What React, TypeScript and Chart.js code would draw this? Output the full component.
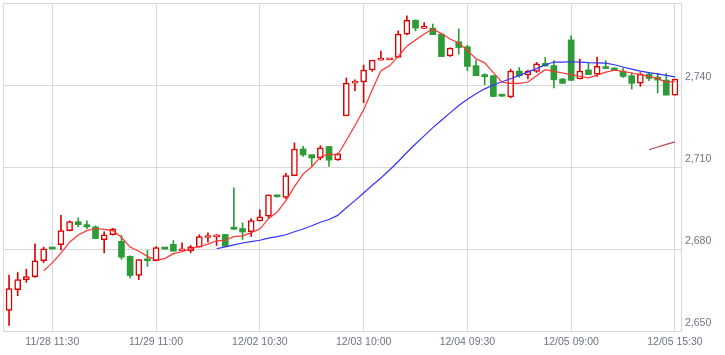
import React, { useEffect, useRef } from 'react';
import { Chart, registerables } from 'chart.js';

Chart.register(...registerables);

// 30-minute candles, 11/28 09:00 .. 12/05 15:30 (index 0..77)
const OPEN = [
  2657.5, 2665.1, 2668.8, 2669.9, 2675.7, 2680.2, 2681.6, 2686.7, 2690.0, 2688.9,
  2688.1, 2683.4, 2685.2, 2682.8, 2677.3, 2670.3, 2676.2, 2675.7, 2680.3, 2681.7,
  2679.3, 2679.4, 2680.7, 2684.2, 2684.4, 2685.3, 2688.0, 2687.5, 2686.3, 2690.3,
  2692.0, 2699.4, 2698.9, 2706.8, 2716.6, 2714.5, 2713.3, 2717.5, 2712.6, 2728.7,
  2740.7, 2741.1, 2745.5, 2749.1, 2749.2, 2750.1, 2758.6, 2763.7, 2760.7, 2760.8,
  2758.6, 2750.6, 2755.8, 2754.0, 2747.1, 2743.8, 2743.4, 2736.1, 2735.6, 2745.1,
  2743.7, 2745.0, 2747.9, 2747.1, 2742.2, 2756.5, 2742.2, 2745.5, 2744.0, 2746.7,
  2746.2, 2745.1, 2743.4, 2740.7, 2744.0, 2742.9, 2741.8, 2736.3,
];
const HIGH = [
  2670.5, 2671.4, 2672.6, 2681.9, 2680.7, 2680.3, 2692.3, 2690.3, 2691.4, 2690.3,
  2688.5, 2686.3, 2687.5, 2685.0, 2677.5, 2676.1, 2679.5, 2680.9, 2680.4, 2683.1,
  2682.3, 2681.3, 2685.2, 2685.9, 2685.3, 2685.4, 2702.4, 2689.6, 2691.1, 2694.3,
  2699.8, 2699.5, 2707.7, 2718.8, 2717.6, 2714.5, 2717.8, 2717.6, 2715.0, 2742.6,
  2741.9, 2747.3, 2749.1, 2752.4, 2749.8, 2759.8, 2765.3, 2763.8, 2762.8, 2762.3,
  2758.7, 2753.6, 2760.5, 2754.5, 2749.1, 2744.2, 2743.5, 2736.2, 2745.8, 2746.4,
  2745.5, 2748.3, 2750.1, 2748.9, 2742.4, 2758.0, 2749.5, 2748.0, 2750.2, 2748.9,
  2746.4, 2746.2, 2744.5, 2744.5, 2744.6, 2744.2, 2744.2, 2742.2,
];
const LOW = [
  2652.0, 2662.9, 2667.8, 2669.6, 2675.0, 2680.0, 2679.7, 2686.6, 2688.1, 2687.4,
  2683.8, 2678.6, 2685.1, 2676.2, 2669.4, 2668.8, 2673.6, 2675.6, 2679.9, 2679.2,
  2679.3, 2678.6, 2680.7, 2682.5, 2681.3, 2681.0, 2687.2, 2683.5, 2684.6, 2690.3,
  2691.4, 2699.0, 2698.4, 2706.8, 2713.9, 2710.5, 2712.6, 2710.2, 2712.4, 2728.7,
  2737.9, 2733.5, 2745.0, 2749.1, 2749.2, 2750.1, 2758.3, 2759.8, 2760.6, 2758.4,
  2750.4, 2750.5, 2751.3, 2745.2, 2743.4, 2740.1, 2735.8, 2735.8, 2735.3, 2742.8,
  2742.2, 2744.6, 2746.9, 2738.9, 2740.6, 2741.7, 2742.2, 2743.8, 2743.1, 2746.0,
  2745.2, 2742.8, 2738.5, 2739.5, 2741.6, 2737.1, 2736.3, 2736.3,
];
const CLOSE = [
  2665.5, 2668.8, 2669.9, 2675.7, 2680.1, 2680.0, 2686.7, 2690.0, 2688.9, 2688.1,
  2683.8, 2685.2, 2687.4, 2677.0, 2670.3, 2676.1, 2675.7, 2680.5, 2680.0, 2679.2,
  2679.8, 2680.8, 2684.5, 2684.5, 2685.2, 2681.0, 2687.2, 2686.2, 2690.4, 2691.8,
  2699.8, 2699.1, 2706.9, 2716.6, 2714.4, 2713.3, 2717.0, 2712.5, 2714.8, 2740.7,
  2741.2, 2745.5, 2749.1, 2749.7, 2749.7, 2758.6, 2763.7, 2760.8, 2760.9, 2758.4,
  2750.4, 2753.5, 2753.7, 2746.8, 2743.4, 2743.0, 2735.8, 2735.9, 2745.1, 2743.4,
  2745.1, 2747.7, 2746.9, 2741.9, 2740.6, 2741.7, 2745.1, 2743.8, 2746.8, 2746.0,
  2745.3, 2743.1, 2740.6, 2744.0, 2742.4, 2741.8, 2736.3, 2742.2,
];

// moving-average lines (start index + values)
const MA5_START = 4;
const MA5 = [
  2672.0, 2674.9, 2678.5, 2682.5, 2685.1, 2686.7, 2687.5, 2687.2, 2686.7, 2684.3,
  2680.7, 2679.2, 2677.3, 2675.9, 2676.5, 2678.3, 2679.0, 2680.1, 2680.9, 2681.8,
  2683.0, 2683.2, 2684.5, 2684.8, 2686.0, 2687.3, 2691.1, 2693.5, 2697.6, 2702.8,
  2707.4, 2710.1, 2713.6, 2714.8, 2714.4, 2719.7, 2725.2, 2730.9, 2738.3, 2745.2,
  2747.0, 2750.5, 2754.2, 2756.5, 2758.7, 2760.5, 2758.8, 2756.8, 2755.4, 2752.6,
  2749.6, 2748.1, 2744.5, 2741.0, 2740.6, 2740.6, 2741.1, 2743.4, 2745.6, 2745.0,
  2744.4, 2743.8, 2743.2, 2742.6, 2743.6, 2744.7, 2745.4, 2745.0, 2744.4, 2743.8,
  2743.1, 2742.4, 2741.0, 2741.3,
];
const MA25_START = 24;
const MA25 = [
  2680.1, 2680.8, 2681.5, 2682.2, 2682.7, 2683.2, 2684.0, 2684.5, 2685.2, 2686.3,
  2687.3, 2688.5, 2689.8, 2690.8, 2692.3, 2695.1, 2697.7, 2700.5, 2703.3, 2706.0,
  2708.9, 2712.0, 2715.3, 2718.4, 2721.4, 2724.4, 2727.1, 2729.8, 2732.5, 2734.8,
  2736.8, 2738.6, 2740.0, 2741.2, 2742.3, 2743.5, 2744.8, 2746.0, 2747.4, 2748.4,
  2748.4, 2748.5, 2748.4, 2748.2, 2748.1, 2748.0, 2747.4, 2746.6, 2745.8, 2745.1,
  2744.5, 2744.1, 2743.5, 2743.0,
];
const MA75_START = 74;
const MA75 = [2716.3, 2717.3, 2718.3, 2719.2];

const TICK_INDEX = [5, 17, 29, 41, 53, 65, 77];
const TICK_LABELS = [
  '11/28 11:30', '11/29 11:00', '12/02 10:30', '12/03 10:00',
  '12/04 09:30', '12/05 09:00', '12/05 15:30',
];
const Y_MIN = 2650;
const Y_MAX = 2770;
const Y_STEP = 30;

const RED = '#e00000';
const GREEN = '#2f9b38';
const GRID = '#d9d9d9';
const TEXT = '#6d7580';
const FONT = { family: "'Liberation Sans', Arial, sans-serif", size: 10.5 };

export default function App() {
  const ref = useRef<HTMLCanvasElement>(null);

  useEffect(() => {
    if (!ref.current) return;
    const idx = CLOSE.map((_, i) => i);
    const isUp = (i: number) => CLOSE[i] >= OPEN[i];
    const bodies = idx.map((i) => ({ x: i, y: [OPEN[i], CLOSE[i]] }));
    const wicks = idx.map((i) => ({ x: i, y: [LOW[i], HIGH[i]] }));
    const toPts = (arr: number[], start: number) => arr.map((v, k) => ({ x: start + k, y: v }));

    const frame = {
      id: 'frame',
      beforeDatasetsDraw(chart: any) {
        const { ctx, chartArea: a } = chart;
        ctx.save();
        ctx.strokeStyle = GRID;
        ctx.lineWidth = 1;
        ctx.strokeRect(a.left + 0.5, a.top + 0.5, a.right - a.left, a.bottom - a.top);
        ctx.restore();
      },
    };

    const zeroPad = (axis: any) => {
      axis.paddingTop = 0;
      axis.paddingBottom = 0;
      axis.paddingLeft = 0;
      axis.paddingRight = 0;
    };

    const chart = new Chart(ref.current, {
      type: 'line',
      data: {
        datasets: [
          {
            type: 'line',
            data: toPts(MA5, MA5_START),
            borderColor: '#ff3333',
            borderWidth: 1.2,
            pointRadius: 0,
            tension: 0,
            order: 0,
          },
          {
            type: 'line',
            data: toPts(MA25, MA25_START),
            borderColor: '#3333ff',
            borderWidth: 1.2,
            pointRadius: 0,
            tension: 0,
            order: 0,
          },
          {
            type: 'line',
            data: toPts(MA75, MA75_START),
            borderColor: '#b34848',
            borderWidth: 1.2,
            pointRadius: 0,
            tension: 0,
            order: 0,
          },
          {
            type: 'bar',
            data: bodies as any,
            backgroundColor: (c: any) => (isUp(c.dataIndex) ? '#ffffff' : GREEN),
            borderColor: (c: any) => (isUp(c.dataIndex) ? RED : GREEN),
            borderWidth: (c: any) => (isUp(c.dataIndex) ? 1.5 : 0),
            borderSkipped: false,
            barThickness: 6,
            minBarLength: 2,
            grouped: false,
            order: 1,
          } as any,
          {
            type: 'bar',
            data: wicks as any,
            backgroundColor: (c: any) => (isUp(c.dataIndex) ? RED : GREEN),
            borderWidth: 0,
            barThickness: 1,
            grouped: false,
            order: 2,
          } as any,
        ],
      },
      options: {
        responsive: false,
        animation: false,
        events: [],
        layout: { padding: { left: 3, top: 3, right: 0, bottom: 0 } },
        plugins: { legend: { display: false }, tooltip: { enabled: false } },
        scales: {
          x: {
            type: 'linear',
            min: -0.7,
            max: 77.7,
            offset: false,
            afterBuildTicks: (axis: any) => {
              axis.ticks = TICK_INDEX.map((v) => ({ value: v }));
            },
            afterFit: (axis: any) => {
              axis.height = 24;
              zeroPad(axis);
            },
            grid: { color: GRID, drawTicks: false, offset: false },
            border: { display: false },
            ticks: {
              autoSkip: false,
              maxRotation: 0,
              padding: 5,
              color: TEXT,
              font: FONT,
              callback: (v: any) => {
                const k = TICK_INDEX.indexOf(Number(v));
                return k >= 0 ? TICK_LABELS[k] : '';
              },
            },
          },
          y: {
            type: 'linear',
            position: 'right',
            min: Y_MIN,
            max: Y_MAX,
            afterFit: (axis: any) => {
              axis.width = 44;
              zeroPad(axis);
            },
            grid: { color: GRID, drawTicks: false },
            border: { display: false },
            ticks: {
              stepSize: Y_STEP,
              padding: 4,
              labelOffset: -7.5,
              color: TEXT,
              font: FONT,
              callback: (v: any) => (Number(v) >= Y_MAX ? '' : Number(v).toLocaleString('en-US')),
            },
          },
        },
      } as any,
      plugins: [frame],
    });
    return () => chart.destroy();
  }, []);

  return (
    <div style={{ position: 'absolute', left: 0, top: 0, width: 725, height: 355, background: '#fff' }}>
      <canvas ref={ref} width={725} height={355} style={{ display: 'block', width: 725, height: 355 }} />
    </div>
  );
}
